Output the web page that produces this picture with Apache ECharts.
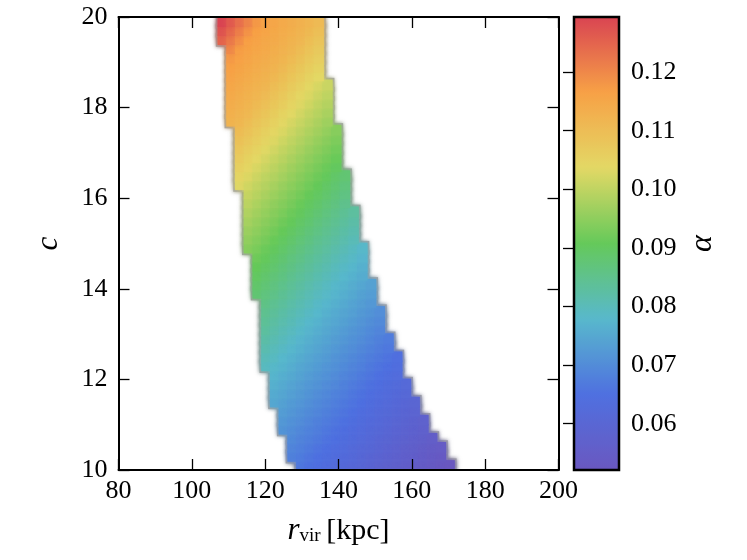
<!DOCTYPE html>
<html><head><meta charset="utf-8">
<script src="https://cdn.jsdelivr.net/npm/echarts@6/dist/echarts.min.js"></script>
<style>html,body{margin:0;padding:0;background:#fff}#c{width:747px;height:560px}</style>
</head><body><div id="c"></div>
<script>
// ---- axis ticks ----
const X_TICKS = [80, 100, 120, 140, 160, 180, 200];
const Y_TICKS = [10, 12, 14, 16, 18, 20];
const CBAR_TICKS = [0.06, 0.07, 0.08, 0.09, 0.10, 0.11, 0.12];
const ALPHA_MIN = 0.0521, ALPHA_MAX = 0.1294;

// ---- grid of the map: r_vir columns (kpc) and c rows ----
const R_ORIGIN = 78.68, R_STEP = 2.38;
const C_ORIGIN = 10.0, C_STEP = 0.2;

// first filled column of each c row (row 0 = c 10.0-10.2 ... row 49 = c 19.8-20.0)
const ROW_FIRST_COL = [21,20,20,20,19,19,19,18,18,18,18,17,17,17,17,17,17,17,17,16,16,16,16,16,15,15,15,15,15,15,15,14,14,14,14,14,14,14,13,13,13,13,13,13,13,13,13,12,12,12];

// alpha values along each row
const ALPHA_ROWS = [
[0.0664,0.0654,0.0645,0.0636,0.0627,0.0618,0.0609,0.0600,0.0592,0.0583,0.0575,0.0567,0.0559,0.0551,0.0543,0.0536,0.0528,0.0520],
[0.0680,0.0671,0.0661,0.0652,0.0643,0.0634,0.0625,0.0616,0.0607,0.0598,0.0590,0.0581,0.0573,0.0565,0.0557,0.0549,0.0541,0.0534],
[0.0688,0.0678,0.0669,0.0659,0.0650,0.0641,0.0632,0.0623,0.0614,0.0605,0.0597,0.0588,0.0580,0.0571,0.0563,0.0555,0.0547,0.0540],
[0.0696,0.0686,0.0676,0.0667,0.0657,0.0648,0.0638,0.0630,0.0621,0.0612,0.0603,0.0595,0.0586,0.0578,0.0570,0.0562,0.0554],
[0.0714,0.0704,0.0693,0.0684,0.0674,0.0664,0.0655,0.0646,0.0636,0.0628,0.0619,0.0610,0.0601,0.0593,0.0584,0.0576,0.0568],
[0.0721,0.0711,0.0701,0.0691,0.0681,0.0672,0.0662,0.0653,0.0643,0.0634,0.0625,0.0617,0.0608,0.0599,0.0591,0.0582,0.0574],
[0.0730,0.0719,0.0709,0.0699,0.0689,0.0679,0.0670,0.0660,0.0651,0.0641,0.0632,0.0623,0.0615,0.0606,0.0597,0.0589],
[0.0748,0.0738,0.0727,0.0717,0.0707,0.0697,0.0687,0.0677,0.0667,0.0658,0.0649,0.0639,0.0630,0.0621,0.0612,0.0604,0.0595],
[0.0756,0.0746,0.0735,0.0725,0.0714,0.0704,0.0694,0.0684,0.0675,0.0665,0.0656,0.0646,0.0637,0.0628,0.0619,0.0610],
[0.0765,0.0754,0.0743,0.0733,0.0722,0.0712,0.0702,0.0692,0.0682,0.0672,0.0663,0.0654,0.0644,0.0635,0.0626,0.0617],
[0.0773,0.0762,0.0752,0.0741,0.0730,0.0720,0.0710,0.0700,0.0690,0.0680,0.0670,0.0661,0.0651,0.0642,0.0633],
[0.0793,0.0782,0.0771,0.0760,0.0749,0.0739,0.0728,0.0717,0.0708,0.0698,0.0688,0.0678,0.0668,0.0659,0.0649,0.0640],
[0.0801,0.0791,0.0779,0.0768,0.0757,0.0747,0.0736,0.0726,0.0715,0.0705,0.0695,0.0685,0.0675,0.0666,0.0657,0.0647],
[0.0811,0.0799,0.0788,0.0777,0.0766,0.0755,0.0744,0.0734,0.0723,0.0713,0.0703,0.0693,0.0683,0.0673,0.0664],
[0.0820,0.0808,0.0797,0.0785,0.0774,0.0763,0.0752,0.0742,0.0731,0.0721,0.0711,0.0701,0.0691,0.0681,0.0671],
[0.0829,0.0817,0.0805,0.0794,0.0783,0.0772,0.0761,0.0750,0.0739,0.0729,0.0718,0.0708,0.0698,0.0688],
[0.0838,0.0826,0.0814,0.0803,0.0791,0.0780,0.0769,0.0758,0.0748,0.0737,0.0727,0.0716,0.0706,0.0696],
[0.0847,0.0835,0.0823,0.0812,0.0800,0.0789,0.0778,0.0767,0.0756,0.0745,0.0735,0.0724,0.0714,0.0704],
[0.0857,0.0844,0.0833,0.0821,0.0809,0.0798,0.0786,0.0775,0.0764,0.0753,0.0743,0.0732,0.0722],
[0.0879,0.0866,0.0854,0.0842,0.0830,0.0818,0.0806,0.0795,0.0784,0.0773,0.0762,0.0751,0.0740,0.0730],
[0.0888,0.0876,0.0863,0.0851,0.0839,0.0827,0.0815,0.0804,0.0792,0.0781,0.0770,0.0759,0.0748,0.0738],
[0.0898,0.0885,0.0873,0.0861,0.0848,0.0836,0.0825,0.0813,0.0801,0.0790,0.0779,0.0768,0.0757],
[0.0908,0.0895,0.0883,0.0870,0.0858,0.0845,0.0834,0.0822,0.0810,0.0798,0.0787,0.0776,0.0765],
[0.0918,0.0905,0.0892,0.0880,0.0867,0.0855,0.0843,0.0831,0.0819,0.0807,0.0796,0.0785,0.0774],
[0.0942,0.0929,0.0915,0.0902,0.0889,0.0877,0.0865,0.0852,0.0840,0.0828,0.0816,0.0805,0.0793,0.0782],
[0.0952,0.0939,0.0926,0.0912,0.0899,0.0887,0.0874,0.0862,0.0849,0.0837,0.0826,0.0814,0.0802],
[0.0963,0.0949,0.0936,0.0923,0.0909,0.0896,0.0884,0.0871,0.0859,0.0846,0.0835,0.0823,0.0811],
[0.0974,0.0960,0.0946,0.0933,0.0919,0.0906,0.0893,0.0881,0.0868,0.0856,0.0844,0.0832,0.0820],
[0.0984,0.0970,0.0957,0.0943,0.0930,0.0916,0.0903,0.0890,0.0878,0.0866,0.0853,0.0841,0.0829],
[0.0995,0.0981,0.0967,0.0953,0.0940,0.0927,0.0913,0.0900,0.0888,0.0875,0.0863,0.0850],
[0.1006,0.0992,0.0978,0.0964,0.0950,0.0937,0.0924,0.0910,0.0897,0.0885,0.0872,0.0860],
[0.1032,0.1017,0.1003,0.0989,0.0975,0.0961,0.0947,0.0934,0.0921,0.0907,0.0894,0.0882,0.0869],
[0.1043,0.1029,0.1014,0.0999,0.0986,0.0972,0.0958,0.0944,0.0931,0.0918,0.0904,0.0891,0.0879],
[0.1055,0.1040,0.1025,0.1011,0.0996,0.0982,0.0968,0.0955,0.0941,0.0928,0.0915,0.0901],
[0.1067,0.1051,0.1037,0.1022,0.1007,0.0993,0.0979,0.0965,0.0951,0.0938,0.0925,0.0912],
[0.1079,0.1063,0.1048,0.1033,0.1019,0.1004,0.0990,0.0976,0.0962,0.0948,0.0935,0.0922],
[0.1091,0.1075,0.1060,0.1045,0.1030,0.1015,0.1001,0.0987,0.0973,0.0959,0.0945,0.0932],
[0.1102,0.1087,0.1072,0.1056,0.1041,0.1027,0.1012,0.0997,0.0983,0.0970,0.0956,0.0942],
[0.1123,0.1114,0.1099,0.1083,0.1068,0.1053,0.1038,0.1023,0.1009,0.0994,0.0980,0.0966],
[0.1130,0.1121,0.1111,0.1095,0.1080,0.1064,0.1049,0.1035,0.1020,0.1005,0.0991,0.0977],
[0.1137,0.1128,0.1119,0.1107,0.1092,0.1076,0.1061,0.1046,0.1031,0.1017,0.1002,0.0988],
[0.1144,0.1135,0.1126,0.1117,0.1104,0.1088,0.1073,0.1057,0.1042,0.1028,0.1013,0.0998],
[0.1151,0.1142,0.1133,0.1124,0.1115,0.1100,0.1085,0.1069,0.1054,0.1039,0.1024,0.1010],
[0.1157,0.1149,0.1140,0.1131,0.1122,0.1112,0.1097,0.1081,0.1066,0.1050,0.1036],
[0.1164,0.1155,0.1147,0.1138,0.1129,0.1120,0.1109,0.1093,0.1078,0.1062,0.1047],
[0.1175,0.1162,0.1153,0.1145,0.1136,0.1127,0.1118,0.1105,0.1090,0.1074,0.1059],
[0.1198,0.1169,0.1160,0.1151,0.1143,0.1134,0.1125,0.1116,0.1102,0.1086,0.1071],
[0.1249,0.1220,0.1191,0.1167,0.1158,0.1149,0.1141,0.1132,0.1123,0.1113,0.1098,0.1083],
[0.1272,0.1243,0.1213,0.1184,0.1165,0.1156,0.1147,0.1138,0.1130,0.1121,0.1110,0.1094],
[0.1294,0.1265,0.1236,0.1207,0.1178,0.1163,0.1154,0.1145,0.1136,0.1128,0.1119,0.1106]
];

const CMAP = ['#6a58c0', '#4f70e0', '#58b8cc', '#65c95a', '#e3d865', '#f7a146', '#d94452'];

// build cells [rLeft, cBottom, rRight, cTop, alpha]
const cells = [];
ALPHA_ROWS.forEach(function (row, j) {
  const c0 = C_ORIGIN + j * C_STEP, c1 = C_ORIGIN + (j + 1) * C_STEP;
  row.forEach(function (a, i) {
    const k = ROW_FIRST_COL[j] + i;
    cells.push([R_ORIGIN + k * R_STEP, c0, R_ORIGIN + (k + 1) * R_STEP, c1, a]);
  });
});

function rectOf(api, pad) {
  const p0 = api.coord([api.value(0), api.value(3)]);
  const p1 = api.coord([api.value(2), api.value(1)]);
  return { x: p0[0] - pad, y: p0[1] - pad, width: p1[0] - p0[0] + 2 * pad, height: p1[1] - p0[1] + 2 * pad };
}

const SERIF = 'Liberation Serif';
const tickFont = { fontFamily: SERIF, fontSize: 26, color: '#000' };
const frameLine = { show: true, lineStyle: { color: '#000', width: 2 } };
const inTick = { show: true, inside: true, length: 11, lineStyle: { color: '#000', width: 1.3 } };

const chart = echarts.init(document.getElementById('c'), null, { renderer: 'canvas' });
chart.setOption({
  backgroundColor: '#fff',
  animation: false,
  grid: [
    { left: 118.5, top: 17, width: 440, height: 453 },
    { left: 574, top: 17, width: 45, height: 453 }
  ],
  xAxis: [
    { gridIndex: 0, type: 'value', min: X_TICKS[0], max: X_TICKS[X_TICKS.length - 1], interval: 20, position: 'bottom',
      axisLine: frameLine, axisTick: inTick, splitLine: { show: false }, z: 10,
      axisLabel: Object.assign({ margin: 8 }, tickFont),
      name: '{i|r}{s|vir}{g| }{n|[kpc]}', nameLocation: 'middle', nameGap: 45,
      nameTextStyle: { rich: {
        i: { fontFamily: SERIF, fontStyle: 'italic', fontSize: 31, color: '#000', verticalAlign: 'bottom', lineHeight: 31 },
        s: { fontFamily: SERIF, fontSize: 19, color: '#000', verticalAlign: 'bottom', lineHeight: 11 },
        g: { fontFamily: SERIF, fontSize: 22, color: '#000', verticalAlign: 'bottom', lineHeight: 31 },
        n: { fontFamily: SERIF, fontSize: 30, color: '#000', verticalAlign: 'bottom', lineHeight: 31 }
      } } },
    { gridIndex: 0, type: 'value', min: X_TICKS[0], max: X_TICKS[X_TICKS.length - 1], interval: 20, position: 'top',
      axisLine: frameLine, axisTick: inTick, axisLabel: { show: false }, splitLine: { show: false }, z: 10 },
    { gridIndex: 1, type: 'value', min: 0, max: 1, show: false }
  ],
  yAxis: [
    { gridIndex: 0, type: 'value', min: Y_TICKS[0], max: Y_TICKS[Y_TICKS.length - 1], interval: 2, position: 'left',
      axisLine: frameLine, axisTick: inTick, splitLine: { show: false }, z: 10,
      axisLabel: Object.assign({ margin: 11 }, tickFont),
      name: 'c', nameLocation: 'middle', nameGap: 54, nameRotate: 90,
      nameTextStyle: { fontFamily: SERIF, fontStyle: 'italic', fontSize: 31, color: '#000' } },
    { gridIndex: 0, type: 'value', min: Y_TICKS[0], max: Y_TICKS[Y_TICKS.length - 1], interval: 2, position: 'right',
      axisLine: frameLine, axisTick: inTick, axisLabel: { show: false }, splitLine: { show: false }, z: 10 },
    { gridIndex: 1, type: 'value', min: ALPHA_MIN, max: ALPHA_MAX, position: 'right',
      axisLine: { show: false }, splitLine: { show: false }, z: 10,
      axisTick: { show: true, inside: true, length: 11, lineStyle: { color: '#000', width: 1.3 }, customValues: CBAR_TICKS },
      axisLabel: Object.assign({ margin: 12, customValues: CBAR_TICKS, formatter: function (v) { return v.toFixed(2); } }, tickFont),
      name: 'α', nameLocation: 'middle', nameGap: 68, nameRotate: 90,
      nameTextStyle: { fontFamily: SERIF, fontStyle: 'italic', fontSize: 32, color: '#000' } }
  ],
  visualMap: {
    type: 'continuous', min: ALPHA_MIN, max: ALPHA_MAX, dimension: 4, seriesIndex: 1,
    inRange: { color: CMAP }, calculable: false, hoverLink: false, orient: 'vertical',
    left: 574, top: 17, itemWidth: 45, itemHeight: 453, padding: 0, z: 5
  },
  graphic: [
    { type: 'rect', z: 100, silent: true, shape: { x: 574, y: 17, width: 45, height: 453 },
      style: { fill: 'none', stroke: '#000', lineWidth: 2.5 } }
  ],
  series: [
    { type: 'custom', name: 'edge', xAxisIndex: 0, yAxisIndex: 0, data: cells, clip: true, silent: true, z: 2,
      renderItem: function (params, api) {
        return { type: 'rect', shape: rectOf(api, 2.6),
          style: { fill: '#a4a4a4', shadowBlur: 4, shadowColor: 'rgba(140,140,140,0.9)' } };
      } },
    { type: 'custom', name: 'alpha', xAxisIndex: 0, yAxisIndex: 0, data: cells, clip: true, silent: true, z: 3,
      renderItem: function (params, api) {
        const col = api.visual('color');
        return { type: 'rect', shape: rectOf(api, 0.8),
          style: { fill: col, shadowBlur: 5, shadowColor: col } };
      } }
  ]
});
</script></body></html>
